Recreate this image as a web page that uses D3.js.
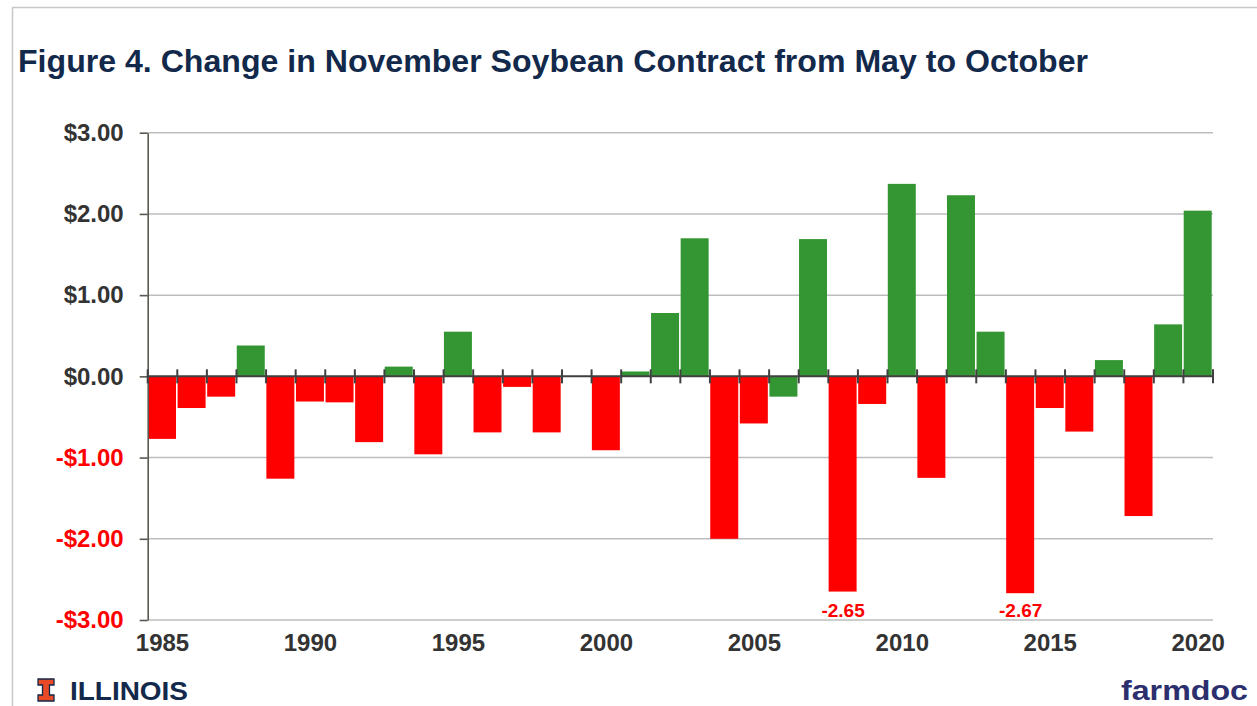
<!DOCTYPE html>
<html>
<head>
<meta charset="utf-8">
<script src="https://cdn.jsdelivr.net/npm/d3@7"></script>
<style>
  html, body { margin: 0; padding: 0; background: #fff; }
  svg { display: block; }
  text { font-family: "Liberation Sans", Arial, sans-serif; }
</style>
</head>
<body>
<svg id="chart" width="1257" height="706"></svg>
<script>
// ---- data ----
const years = [1985,1986,1987,1988,1989,1990,1991,1992,1993,1994,1995,1996,1997,1998,1999,
  2000,2001,2002,2003,2004,2005,2006,2007,2008,2009,2010,2011,2012,2013,2014,2015,2016,2017,2018,2019,2020];
const changes = [-0.77,-0.39,-0.25,0.38,-1.26,-0.31,-0.32,-0.81,0.12,-0.96,0.55,-0.69,-0.13,-0.69,0,
  -0.91,0.06,0.78,1.70,-2.00,-0.58,-0.25,1.69,-2.65,-0.34,2.37,-1.25,2.23,0.55,-2.67,-0.39,-0.68,0.20,-1.72,0.64,2.04];
const greenOverrideYears = [2006];
const labelledYears = [2008, 2014];
const yTickValues = [3, 2, 1, 0, -1, -2, -3];
const yTickLabels = ["$3.00", "$2.00", "$1.00", "$0.00", "-$1.00", "-$2.00", "-$3.00"];
const xLabelYears = [1985, 1990, 1995, 2000, 2005, 2010, 2015, 2020];
const titleText = "Figure 4. Change in November Soybean Contract from May to October";

(function () {
// ---- setup ----
const svg = d3.select("#chart");
const RED = "#ff0000", GREEN = "#339633", NAVY = "#13294b";
const pLeft = 147.7, pRight = 1213, pTop = 132.7, pBottom = 620;

const x = d3.scaleBand().domain(years).range([pLeft, pRight]).padding(0);
const y = d3.scaleLinear().domain([-3, 3]).range([pBottom, pTop]);
const bw = x.bandwidth();

// frame lines (slide border)
svg.append("line").attr("x1", 12).attr("x2", 1257).attr("y1", 7.5).attr("y2", 7.5)
  .attr("stroke", "#c8c8c8").attr("stroke-width", 1.5);
svg.append("line").attr("x1", 12.5).attr("x2", 12.5).attr("y1", 7).attr("y2", 706)
  .attr("stroke", "#c8c8c8").attr("stroke-width", 1.5);

// title
svg.append("text").attr("x", 18).attr("y", 72)
  .attr("font-family", "'Liberation Sans Narrow', 'Liberation Sans', Arial, sans-serif")
  .attr("font-size", 32).attr("font-weight", "bold").attr("fill", NAVY)
  .attr("textLength", 1070).attr("lengthAdjust", "spacingAndGlyphs")
  .text(titleText);

// gridlines
svg.append("g").selectAll("line").data(yTickValues.filter(v => v !== 0)).join("line")
  .attr("x1", pLeft).attr("x2", pRight)
  .attr("y1", d => y(d)).attr("y2", d => y(d))
  .attr("stroke", "#bdbdbd").attr("stroke-width", 1.5);

// bars
svg.append("g").selectAll("rect").data(years.map((yr, i) => ({yr, v: changes[i]}))).join("rect")
  .attr("x", d => x(d.yr) + 0.3)
  .attr("width", bw - 1.6)
  .attr("y", d => y(Math.max(0, d.v)))
  .attr("height", d => Math.abs(y(d.v) - y(0)))
  .attr("fill", d => (d.v >= 0 || greenOverrideYears.includes(d.yr)) ? GREEN : RED);

// y axis
const yAxis = d3.axisLeft(y).tickValues(yTickValues)
  .tickFormat(d => yTickLabels[yTickValues.indexOf(d)])
  .tickSize(8).tickSizeOuter(0).tickPadding(16);
const gy = svg.append("g").attr("transform", `translate(${pLeft},0)`).call(yAxis);
gy.select(".domain").attr("stroke", "#595950").attr("stroke-width", 1.6);
gy.selectAll(".tick line").attr("stroke", "#595950").attr("stroke-width", 1.6);
gy.selectAll(".tick text")
  .attr("font-family", "'Liberation Sans', Arial, sans-serif")
  .attr("font-size", 24).attr("font-weight", "bold")
  .attr("fill", d => d < 0 ? RED : "#333333");

// zero axis line with tick marks at band boundaries
const boundaries = years.map(yr => x(yr)).concat([x.range()[1]]);
svg.append("line").attr("x1", pLeft).attr("x2", pRight).attr("y1", y(0)).attr("y2", y(0))
  .attr("stroke", "#404040").attr("stroke-width", 2);
svg.append("g").selectAll("line").data(boundaries).join("line")
  .attr("x1", d => d).attr("x2", d => d)
  .attr("y1", y(0) - 7).attr("y2", y(0) + 7)
  .attr("stroke", "#404040").attr("stroke-width", 2);

// x labels
const xAxis = d3.axisBottom(x).tickValues(xLabelYears).tickSize(0).tickPadding(0);
const gx = svg.append("g").attr("transform", `translate(0,${pBottom + 14})`).call(xAxis);
gx.select(".domain").remove();
gx.selectAll(".tick text")
  .attr("font-family", "'Liberation Sans', Arial, sans-serif")
  .attr("font-size", 24).attr("font-weight", "bold").attr("fill", "#333333");

// data labels
svg.append("g").selectAll("text").data(labelledYears).join("text")
  .attr("x", d => x(d) + bw / 2)
  .attr("y", 616.5)
  .attr("text-anchor", "middle")
  .attr("font-size", 19).attr("font-weight", "bold").attr("fill", RED)
  .text(d => changes[years.indexOf(d)].toFixed(2));

// ILLINOIS logo (block I)
const bi = svg.append("g").attr("transform", "translate(38,679)");
bi.append("path")
  .attr("d", "M0,0 H16 V6 H11.5 V16 H16 V22 H0 V16 H4.5 V6 H0 Z")
  .attr("fill", "#e84a27").attr("stroke", NAVY).attr("stroke-width", 1.3);
svg.append("text").attr("x", 70).attr("y", 700)
  .attr("font-size", 25).attr("font-weight", "bold").attr("fill", NAVY)
  .attr("textLength", 118).attr("lengthAdjust", "spacingAndGlyphs")
  .text("ILLINOIS");

// farmdoc logo
svg.append("text").attr("x", 1121).attr("y", 700)
  .attr("font-family", "'DejaVu Sans', sans-serif")
  .attr("font-size", 28).attr("font-weight", "bold").attr("fill", "#2c2f6e")
  .attr("textLength", 127).attr("lengthAdjust", "spacingAndGlyphs")
  .text("farmdoc");
})();
</script>
</body>
</html>
